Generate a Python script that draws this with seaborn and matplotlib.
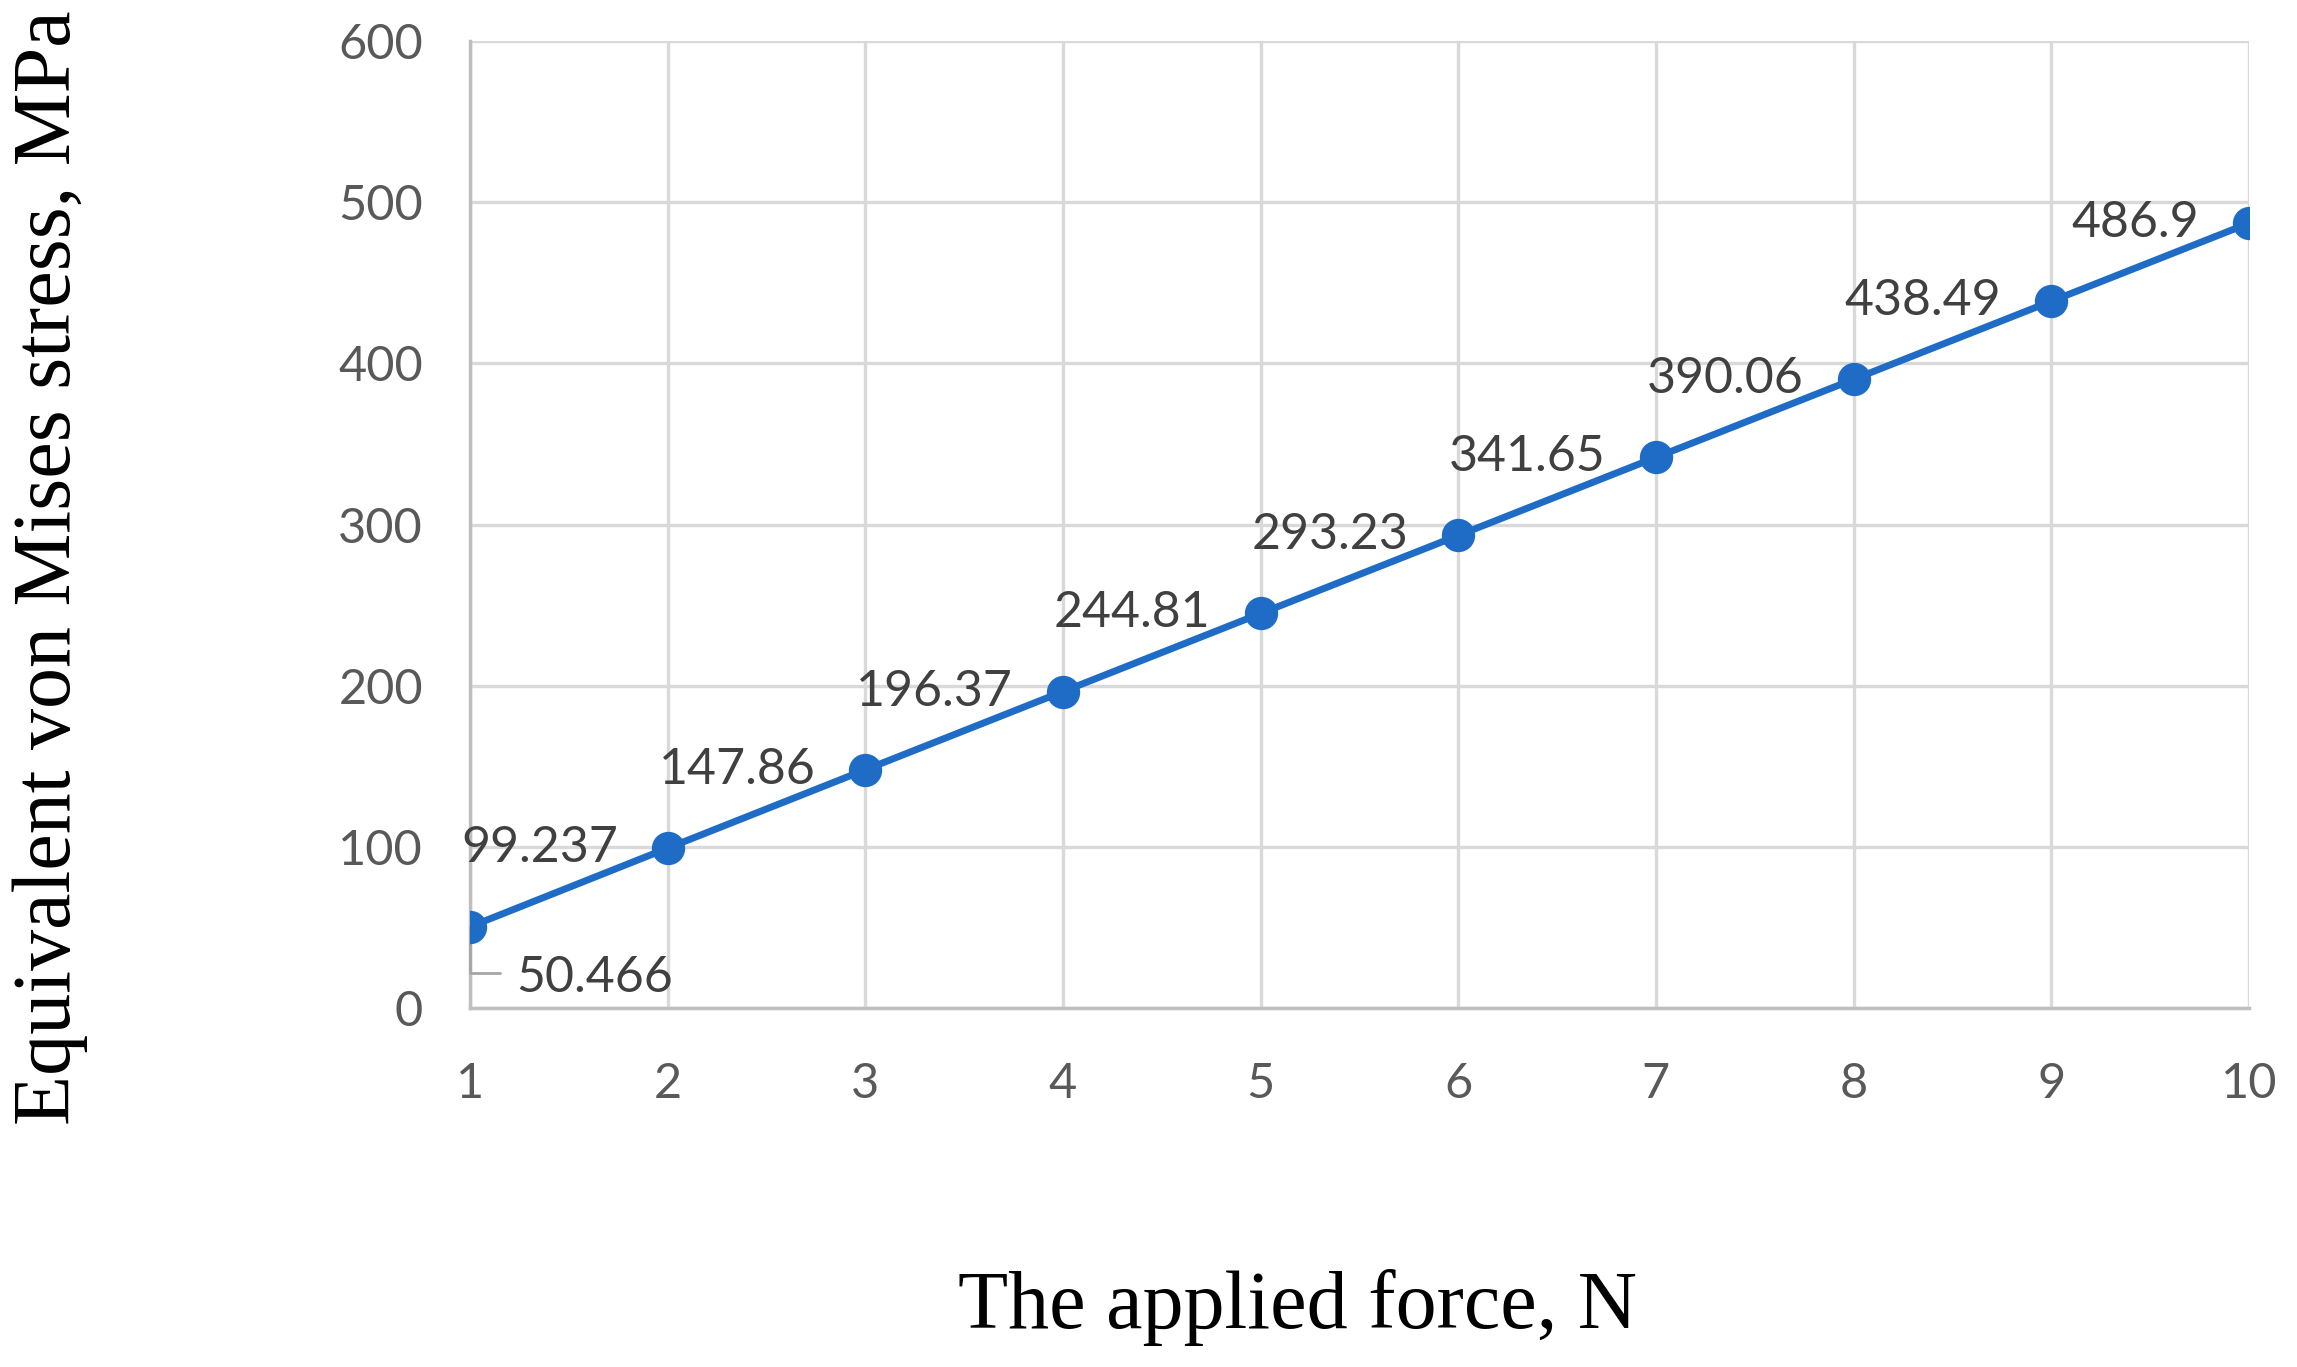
"""
Von Mises stress vs applied force
=================================

Line chart with point labels, drawn with seaborn and saved as out.png.
"""

import pandas as pd
import matplotlib
matplotlib.use('Agg')
import matplotlib.pyplot as plt
import seaborn as sns

# ==============================================================================
# DATA
# ==============================================================================

force = [1, 2, 3, 4, 5, 6, 7, 8, 9, 10]
stress = [50.466, 99.237, 147.86, 196.37, 244.81, 293.23, 341.65, 390.06, 438.49, 486.9]
y_ticks = [0, 100, 200, 300, 400, 500, 600]

x_label = 'The applied force, N'
y_label = 'Equivalent von Mises stress, MPa'

LINE_COLOR = '#1f6cc6'
GRID_COLOR = '#d9d9d9'
AXIS_COLOR = '#bfbfbf'
TEXT_COLOR = '#595959'
LABEL_COLOR = '#404040'


# ==============================================================================
# PLOT
# ==============================================================================

def plot_stress(df):
    """Draw the stress curve with Excel-like styling."""
    sns.set_style('white')
    plt.rcParams['font.family'] = ['Lato', 'DejaVu Sans']

    fig = plt.figure(figsize=(22.97, 13.67), dpi=100)
    ax = fig.add_axes([0.2047, 0.2626, 0.979 - 0.2047, 0.970 - 0.2626])

    sns.lineplot(data=df, x='force', y='stress', ax=ax, color=LINE_COLOR,
                 linewidth=5, marker='o', markersize=24, markeredgewidth=0,
                 zorder=4)

    ax.set_xlim(1, 10)
    ax.set_ylim(0, 600)
    ax.set_xticks(force)
    ax.set_yticks(y_ticks)
    ax.tick_params(axis='both', length=0, labelsize=35, colors=TEXT_COLOR)
    ax.tick_params(axis='x', pad=39)
    ax.tick_params(axis='y', pad=34)

    ax.grid(True, color=GRID_COLOR, linewidth=2.4)
    ax.set_axisbelow(True)
    for side in ['top', 'right']:
        ax.spines[side].set_visible(False)
    for side in ['left', 'bottom']:
        ax.spines[side].set_color(AXIS_COLOR)
        ax.spines[side].set_linewidth(2.5)

    # point labels: left of each point, first one below-right with leader line
    for i, (x, y) in enumerate(zip(df['force'], df['stress'])):
        if i == 0:
            ax.annotate(str(y), xy=(x, y), xytext=(33, -37),
                        textcoords='offset points', ha='left', va='center',
                        fontsize=36, color=LABEL_COLOR, zorder=3,
                        arrowprops=dict(arrowstyle='-', color='#a6a6a6', lw=2,
                                        connectionstyle='angle,angleA=0,angleB=90,rad=0',
                                        relpos=(0, 0.62), shrinkA=9, shrinkB=0))
        else:
            ax.annotate(str(y), xy=(x, y), xytext=(-36, 0),
                        textcoords='offset points', ha='right', va='center',
                        fontsize=36, color=LABEL_COLOR, zorder=5)

    ax.set_xlabel(x_label, fontsize=59, family='Liberation Serif', color='black')
    ax.set_ylabel(y_label, fontsize=59, family='Liberation Serif', color='black')
    ax.xaxis.set_label_coords(0.465, -0.270)
    ax.yaxis.set_label_coords(-0.215, 0.455)

    fig.savefig('out.png', dpi=100)
    return fig


def main():
    df = pd.DataFrame({'force': force, 'stress': stress})
    plot_stress(df)


if __name__ == '__main__':
    main()
